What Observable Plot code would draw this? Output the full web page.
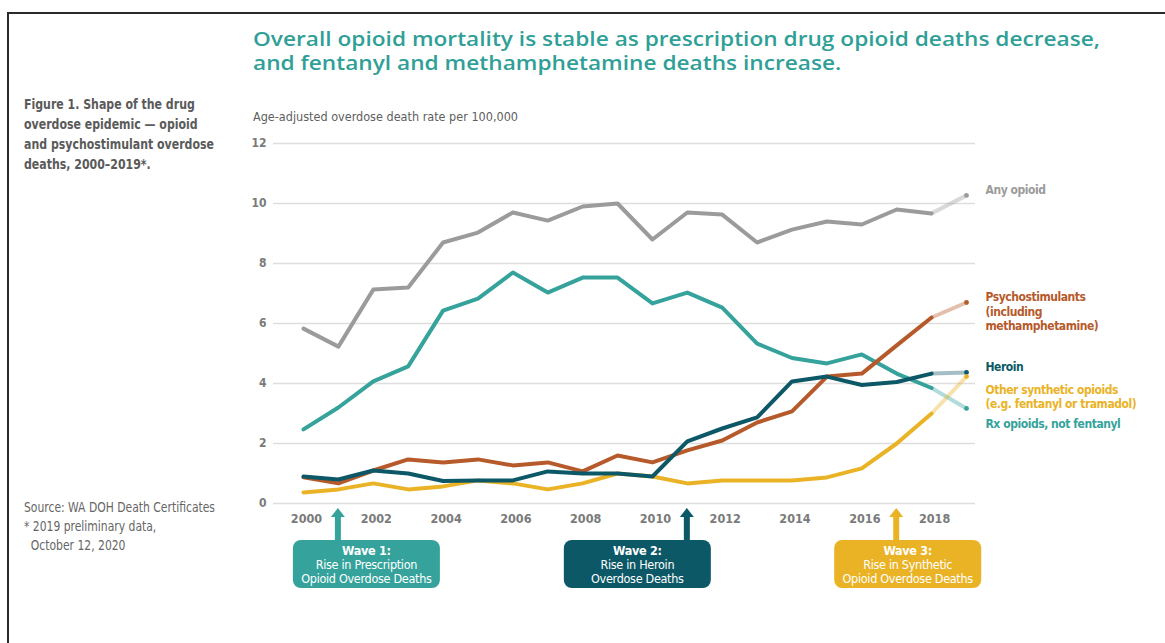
<!DOCTYPE html>
<html>
<head>
<meta charset="utf-8">
<script src="https://cdn.jsdelivr.net/npm/d3@7"></script>
<script src="https://cdn.jsdelivr.net/npm/@observablehq/plot@0.6"></script>
<style>
  html, body { margin: 0; padding: 0; background: #fff; width: 1165px; height: 643px; overflow: hidden; }
  body { position: relative; font-family: "DejaVu Sans Condensed", "DejaVu Sans", sans-serif; font-stretch: condensed; }
  .frame { position: absolute; left: 7px; top: 12px; width: 1200px; height: 700px; border-top: 2px solid #2a2a2a; border-left: 2px solid #2a2a2a; }
  .title { position: absolute; left: 253px; font-family: "Open Sans", "Lato", sans-serif; font-stretch: normal; font-weight: 600; font-size: 20.5px; line-height: 22px; height: 22px; color: #2f9f97; white-space: nowrap; transform-origin: 0 0; }
  #title1 { top: 27px; }
  #title2 { top: 51px; }
  .fit { transform-origin: 0 0; white-space: nowrap; }
  .fig { position: absolute; left: 24px; top: 94px; font-weight: bold; font-size: 14px; line-height: 20px; color: #5a5a5a; }
  .ytitle { position: absolute; left: 253px; top: 109px; font-size: 13px; color: #5e5e5e; }
  .source { position: absolute; left: 24px; top: 498px; font-size: 14px; line-height: 19px; color: #666; }
  #chart { position: absolute; left: 0; top: 130px; }
</style>
</head>
<body>
<div class="frame"></div>
<div class="title" id="title1">Overall opioid mortality is stable as prescription drug opioid deaths decrease,</div>
<div class="title" id="title2">and fentanyl and methamphetamine deaths increase.</div>
<div class="fig fit" id="fig">Figure 1. Shape of the drug<br>overdose epidemic — opioid<br>and psychostimulant overdose<br>deaths, 2000–2019*.</div>
<div class="ytitle fit" id="ytitle">Age-adjusted overdose death rate per 100,000</div>
<div class="source fit" id="source">Source: WA DOH Death Certificates<br>* 2019 preliminary data,<br>&nbsp;&nbsp;October 12, 2020</div>
<div id="chart"></div>
<script>
// ---- data ----
const years = [2000,2001,2002,2003,2004,2005,2006,2007,2008,2009,2010,2011,2012,2013,2014,2015,2016,2017,2018,2019];
const anyOpioid        = [5.83,5.23,7.13,7.2,8.7,9.03,9.7,9.43,9.9,10.0,8.8,9.7,9.63,8.7,9.13,9.4,9.3,9.8,9.67,10.27];
const rxOpioids        = [2.47,3.2,4.07,4.57,6.43,6.83,7.7,7.03,7.53,7.53,6.67,7.03,6.53,5.33,4.85,4.67,4.97,4.33,3.85,3.17];
const psychostimulants = [0.87,0.67,1.1,1.47,1.37,1.47,1.27,1.37,1.07,1.6,1.37,1.77,2.1,2.7,3.07,4.23,4.33,5.27,6.2,6.7];
const heroin           = [0.9,0.8,1.1,1.0,0.75,0.77,0.77,1.07,1.0,1.0,0.9,2.07,2.5,2.87,4.07,4.23,3.95,4.05,4.33,4.37];
const otherSynthetic   = [0.37,0.47,0.67,0.47,0.57,0.77,0.67,0.47,0.67,1.0,0.9,0.67,0.77,0.77,0.77,0.87,1.17,2.0,3.0,4.23];

const seriesNames  = ["Any opioid","Psychostimulants\n(including\nmethamphetamine)","Heroin","Other synthetic opioids\n(e.g. fentanyl or tramadol)","Rx opioids, not fentanyl"];
const seriesValues = [anyOpioid, psychostimulants, heroin, otherSynthetic, rxOpioids];
const yTicks = [0,2,4,6,8,10,12];
const xTicks = [2000,2002,2004,2006,2008,2010,2012,2014,2016,2018];
const finalYear = 2018; // last complete year; 2019 preliminary

const waveYears  = [2001, 2011, 2017];
const waveTitles = ["Wave 1:", "Wave 2:", "Wave 3:"];
const waveText   = ["Rise in Prescription\nOpioid Overdose Deaths", "Rise in Heroin\nOverdose Deaths", "Rise in Synthetic\nOpioid Overdose Deaths"];

// ---- styles / layout (not data) ----
const colors     = ["#9b9b9b", "#b65a2b", "#0c5866", "#eab326", "#35a39b"];
const labelDy    = [-11, -11, -11, 7, 10];
const waveColors = ["#35a39b", "#0c5866", "#eab326"];
const waveBoxShift = [-45, -123, -62];
const FONT = '"DejaVu Sans Condensed", "DejaVu Sans", sans-serif';

// fit the HTML texts to the reference widths
function fitWidth(id, target) {
  const el = document.getElementById(id);
  const w = el.getBoundingClientRect().width;
  el.style.transform = `scaleX(${target / w})`;
  return target / w;
}
const tScale = fitWidth("title1", 847);
document.getElementById("title2").style.transform = `scaleX(${tScale})`;
fitWidth("fig", 190);
fitWidth("ytitle", 265);
fitWidth("source", 191);

// ---- build tables ----
const solid = [], prelim = [], endDots = [], labels = [];
seriesNames.forEach((name, s) => {
  years.forEach((yr, i) => {
    const row = {series: s, year: yr, value: seriesValues[s][i]};
    if (yr <= finalYear) solid.push(row);
    if (yr >= finalYear) prelim.push(row);
    if (yr === years[years.length - 1]) { endDots.push(row); labels.push({...row, name}); }
  });
});
const drawOrder = [0, 4, 3, 1, 2];

function waveMark(index, scales) {
  const g = d3.create("svg:g");
  const y0 = scales.y(0);
  waveYears.forEach((yr, i) => {
    const x = scales.x(yr);
    const top = y0 + 37, h = 48, w = 147;
    const left = x + waveBoxShift[i];
    g.append("rect").attr("x", left).attr("y", top).attr("width", w).attr("height", h)
      .attr("rx", 8).attr("fill", waveColors[i]);
    g.append("rect").attr("x", x - 3).attr("y", y0 + 13).attr("width", 6).attr("height", top - y0 - 12).attr("fill", waveColors[i]);
    g.append("path").attr("d", `M${x - 7},${y0 + 14}L${x},${y0 + 5}L${x + 7},${y0 + 14}Z`).attr("fill", waveColors[i]);
    const t = g.append("text").attr("text-anchor", "middle").attr("fill", "#fff")
      .attr("font-size", 12.5).style("letter-spacing", "-0.3px");
    t.append("tspan").attr("x", left + w / 2).attr("y", top + 15).attr("font-weight", "bold").text(waveTitles[i]);
    waveText[i].split("\n").forEach((line, j) => {
      t.append("tspan").attr("x", left + w / 2).attr("y", top + 29 + j * 14).attr("font-weight", 500).text(line);
    });
  });
  return g.node();
}

const marks = [
  Plot.ruleY(yTicks, {stroke: "#dedede", strokeWidth: 1.3}),
  Plot.axisY(yTicks, {tickSize: 0, tickPadding: 7, fill: "#7a7a7a", fontWeight: "bold", fontSize: 12, label: null}),
  Plot.axisX(xTicks, {tickSize: 0, tickPadding: 11, dx: 3, fill: "#7a7a7a", fontWeight: "bold", fontSize: 12.5, tickFormat: d => String(d), label: null}),
];
drawOrder.forEach(s => {
  marks.push(Plot.line(prelim.filter(d => d.series === s), {x: "year", y: "value", stroke: colors[s], strokeOpacity: 0.38, strokeWidth: 4}));
});
drawOrder.forEach(s => {
  marks.push(Plot.line(solid.filter(d => d.series === s), {x: "year", y: "value", stroke: colors[s], strokeWidth: 4}));
});
marks.push(Plot.dot(endDots, {x: "year", y: "value", r: 2.4, fill: d => colors[d.series], stroke: "none"}));
labels.forEach(d => {
  marks.push(Plot.text([d], {x: "year", y: "value", text: "name", dx: 19, dy: labelDy[d.series], textAnchor: "start", lineAnchor: "top",
    lineHeight: 1.17, fill: colors[d.series], fontWeight: "bold", fontSize: 12}));
});
marks.push(waveMark);

const chart = Plot.plot({
  width: 1165,
  height: 480,
  marginLeft: 273,
  marginRight: 190,
  marginTop: 13,
  marginBottom: 107,
  style: {fontFamily: FONT, background: "transparent", overflow: "visible"},
  x: {domain: [2000, 2019], insetLeft: 30, insetRight: 9},
  y: {domain: [0, 12]},
  marks
});
document.getElementById("chart").appendChild(chart);
// condense the series labels a little
d3.select(chart).selectAll('g[aria-label="text"] text').style("letter-spacing", "-0.45px");
</script>
</body>
</html>
